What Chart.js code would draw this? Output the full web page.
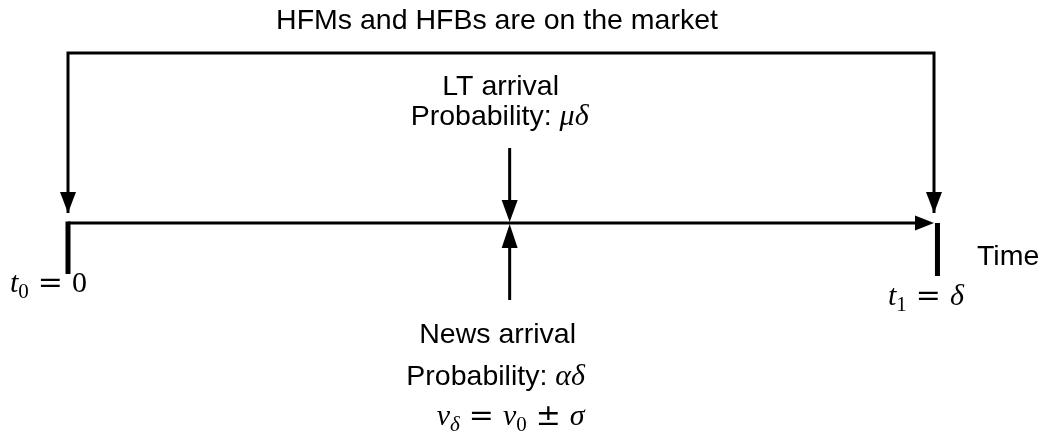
<!DOCTYPE html>
<html>
<head>
<meta charset="utf-8">
<script src="https://cdn.jsdelivr.net/npm/chart.js@4.4.0/dist/chart.umd.min.js"></script>
<style>
  html, body { margin: 0; padding: 0; background: #fff; }
  #timeline { display: block; }
</style>
</head>
<body>
<canvas id="timeline" width="1052" height="444"></canvas>
<script>
// Zeitachse: t0 = 0, Ankunft (LT / News), t1 = delta
const eventTimes = [0, 0.51, 1];
const marketWindow = [0, 1];          // HFMs und HFBs im Markt
const bracketLevel = 170;             // Hoehe der Klammer ueber der Achse
const bracketArrowEnd = 10;
const ltArrow = [75, 1];              // von oben auf die Achse
const newsArrow = [-77, -1];          // von unten auf die Achse
const tickDepth = [-51, -53];         // dicke Striche bei t0 und t1
const tickOffset = [0, 0.004];

const SANS = '"Liberation Sans", Arial, Helvetica, sans-serif';
const SERIF = '"Liberation Serif", "Times New Roman", serif';
const OPS = '"DejaVu Serif", serif';
const FS = 28.5;
const MS = 30;   // Formelgroesse

function seg(text, style) { return Object.assign({ text: text }, style || {}); }
const M = { math: true }, MI = { math: true, italic: true };
const OP = { math: true, op: true, gap: 9 };

// Texte (Segmente fuer Formeln)
const titleText = [seg('HFMs and HFBs are on the market')];
const ltLines = [
  [seg('LT arrival')],
  [seg('Probability: '), seg('μδ', MI)]
];
const newsLines = [
  [seg('News arrival')],
  [seg('Probability: '), seg('αδ', MI)],
  [seg('v', MI), seg('δ', { math: true, italic: true, sub: true }),
   seg('=', OP), seg('v', MI), seg('0', { math: true, sub: true }),
   seg('±', OP), seg('σ', MI)]
];
const t0Label = [seg('t', MI), seg('0', { math: true, sub: true }), seg('=', OP), seg('0', M)];
const t1Label = [seg('t', MI), seg('1', { math: true, sub: true }), seg('=', OP), seg('δ', MI)];
const axisName = [seg('Time')];

function line(points, width) {
  return {
    data: points,
    showLine: true,
    borderColor: '#000',
    borderWidth: width,
    pointRadius: 0,
    borderCapStyle: 'butt',
    borderJoinStyle: 'miter',
    tension: 0
  };
}

const datasets = [
  line([
    { x: marketWindow[0], y: bracketArrowEnd },
    { x: marketWindow[0], y: bracketLevel },
    { x: marketWindow[1], y: bracketLevel },
    { x: marketWindow[1], y: bracketArrowEnd }
  ], 3),
  line([{ x: eventTimes[0], y: 0 }, { x: eventTimes[2] - 0.01, y: 0 }], 3),
  line([{ x: eventTimes[1], y: ltArrow[0] }, { x: eventTimes[1], y: ltArrow[1] + 10 }], 3),
  line([{ x: eventTimes[1], y: newsArrow[0] }, { x: eventTimes[1], y: newsArrow[1] - 10 }], 3),
  line([{ x: eventTimes[0] + tickOffset[0], y: 1.5 }, { x: eventTimes[0] + tickOffset[0], y: tickDepth[0] }], 5),
  line([{ x: eventTimes[2] + tickOffset[1], y: 0 }, { x: eventTimes[2] + tickOffset[1], y: tickDepth[1] }], 5)
];

function fontFor(s) {
  const base = s.math ? MS : FS;
  const sz = s.sub ? base * 0.7 : base;
  const fam = s.op ? OPS : (s.math ? SERIF : SANS);
  return (s.italic ? 'italic ' : '') + sz + 'px ' + fam;
}

function segWidth(ctx, s) {
  ctx.font = fontFor(s);
  return ctx.measureText(s.text).width + 2 * (s.gap || 0);
}

function drawRich(ctx, segs, x, y, align) {
  const w = segs.reduce((a, s) => a + segWidth(ctx, s), 0);
  let cx = align === 'center' ? x - w / 2 : (align === 'right' ? x - w : x);
  ctx.textAlign = 'left';
  ctx.textBaseline = 'alphabetic';
  ctx.fillStyle = '#000';
  segs.forEach(s => {
    const sw = segWidth(ctx, s);
    ctx.font = fontFor(s);
    ctx.fillText(s.text, cx + (s.gap || 0), s.sub ? y + MS * 0.2 : y);
    cx += sw;
  });
}

function head(ctx, tipX, tipY, dx, dy, len, half) {
  // dx,dy = Richtung der Spitze
  ctx.beginPath();
  ctx.moveTo(tipX, tipY);
  ctx.lineTo(tipX - dx * len - dy * half, tipY - dy * len + dx * half);
  ctx.lineTo(tipX - dx * len + dy * half, tipY - dy * len - dx * half);
  ctx.closePath();
  ctx.fill();
}

const diagramPlugin = {
  id: 'diagram',
  afterDatasetsDraw(chart) {
    const ctx = chart.ctx;
    const xs = chart.scales.x, ys = chart.scales.y;
    const px = v => xs.getPixelForValue(v);
    const py = v => ys.getPixelForValue(v);
    ctx.save();
    ctx.fillStyle = '#000';

    // Pfeilspitzen
    head(ctx, px(marketWindow[0]), py(bracketArrowEnd), 0, 1, 21, 8);
    head(ctx, px(marketWindow[1]), py(bracketArrowEnd), 0, 1, 21, 8);
    head(ctx, px(eventTimes[2]), py(0), 1, 0, 19, 7.5);
    head(ctx, px(eventTimes[1]), py(ltArrow[1]), 0, 1, 22, 8);
    head(ctx, px(eventTimes[1]), py(newsArrow[1]), 0, -1, 24, 8);

    // Texte
    const mid = (px(marketWindow[0]) + px(marketWindow[1])) / 2;
    drawRich(ctx, titleText, mid - 4, 29, 'center');
    const ax = px(eventTimes[1]);
    drawRich(ctx, ltLines[0], ax - 9, 95, 'center');
    drawRich(ctx, ltLines[1], ax - 10, 125, 'center');
    drawRich(ctx, newsLines[0], ax - 12, 343, 'center');
    drawRich(ctx, newsLines[1], ax - 14, 385, 'center');
    drawRich(ctx, newsLines[2], ax + 1, 425, 'center');
    drawRich(ctx, t0Label, px(eventTimes[0]) - 58, 292, 'left');
    drawRich(ctx, t1Label, px(eventTimes[2]) - 46, 305, 'left');
    drawRich(ctx, axisName, px(eventTimes[2]) + 43, 265, 'left');
    ctx.restore();
  }
};

new Chart(document.getElementById('timeline'), {
  type: 'scatter',
  data: { datasets: datasets },
  options: {
    responsive: false,
    animation: false,
    devicePixelRatio: 1,
    layout: { padding: 0 },
    plugins: { legend: { display: false }, tooltip: { enabled: false } },
    scales: {
      x: { type: 'linear', display: false, min: -68 / 866, max: (1052 - 68) / 866 },
      y: { type: 'linear', display: false, min: -221, max: 223 }
    }
  },
  plugins: [diagramPlugin]
});
</script>
</body>
</html>
